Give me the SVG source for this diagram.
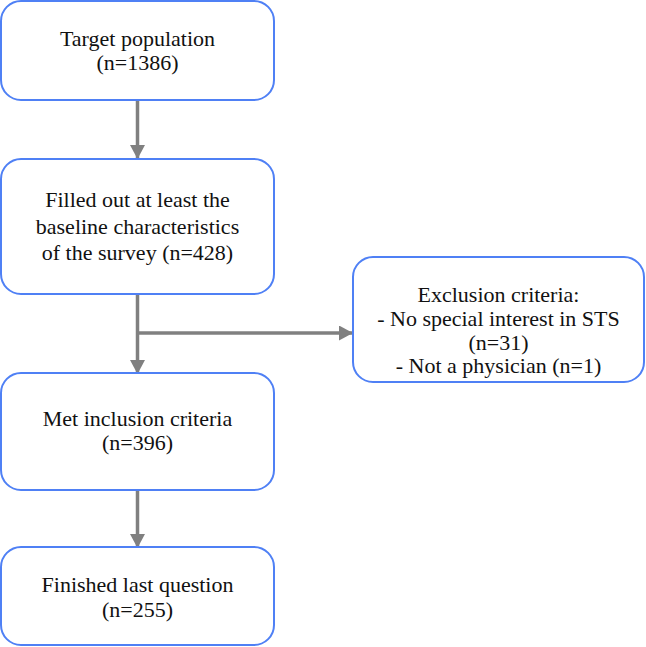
<svg xmlns="http://www.w3.org/2000/svg" width="646" height="647" viewBox="0 0 646 647">
<defs>
<marker id="ah" markerUnits="userSpaceOnUse" markerWidth="14" markerHeight="15" refX="13" refY="7.5" orient="auto">
<path d="M0,0 L14,7.5 L0,15 Z" fill="#808080"/>
</marker>
</defs>
<style>
.box{fill:#ffffff;stroke:#4f80f5;stroke-width:2}
.con{stroke:#808080;stroke-width:3.5;fill:none}
</style>
<rect width="646" height="647" fill="#ffffff"/>
<g id="connectors">
<line class="con" x1="137.5" y1="101" x2="137.5" y2="158" marker-end="url(#ah)"/>
<line class="con" x1="137.5" y1="294" x2="137.5" y2="373" marker-end="url(#ah)"/>
<line class="con" x1="137.5" y1="333" x2="352" y2="333" marker-end="url(#ah)"/>
<line class="con" x1="137.5" y1="491" x2="137.5" y2="547" marker-end="url(#ah)"/>
</g>
<g font-family="'Liberation Serif', 'Times New Roman', serif" font-size="22" fill="#111111" text-anchor="middle">
<g id="n1">
<rect class="box" x="1" y="1" width="273" height="99" rx="20"/>
<text x="137.5" y="46">Target population</text>
<text x="137.5" y="70">(n=1386)</text>
</g>
<g id="n2">
<rect class="box" x="1" y="159" width="273" height="135" rx="20"/>
<text x="137.5" y="207">Filled out at least the</text>
<text x="137.5" y="234">baseline characteristics</text>
<text x="137.5" y="260">of the survey (n=428)</text>
</g>
<g id="n3">
<rect class="box" x="1" y="373" width="273" height="117" rx="20"/>
<text x="137.5" y="426">Met inclusion criteria</text>
<text x="137.5" y="450">(n=396)</text>
</g>
<g id="n4">
<rect class="box" x="1" y="547" width="273" height="98" rx="20"/>
<text x="137.5" y="592">Finished last question</text>
<text x="137.5" y="617">(n=255)</text>
</g>
<g id="n5">
<rect class="box" x="353" y="257" width="291" height="125" rx="20"/>
<text x="498.5" y="302">Exclusion criteria:</text>
<text x="498.5" y="326">- No special interest in STS</text>
<text x="498.5" y="350">(n=31)</text>
<text x="498.5" y="373">- Not a physician (n=1)</text>
</g>
</g>
</svg>
